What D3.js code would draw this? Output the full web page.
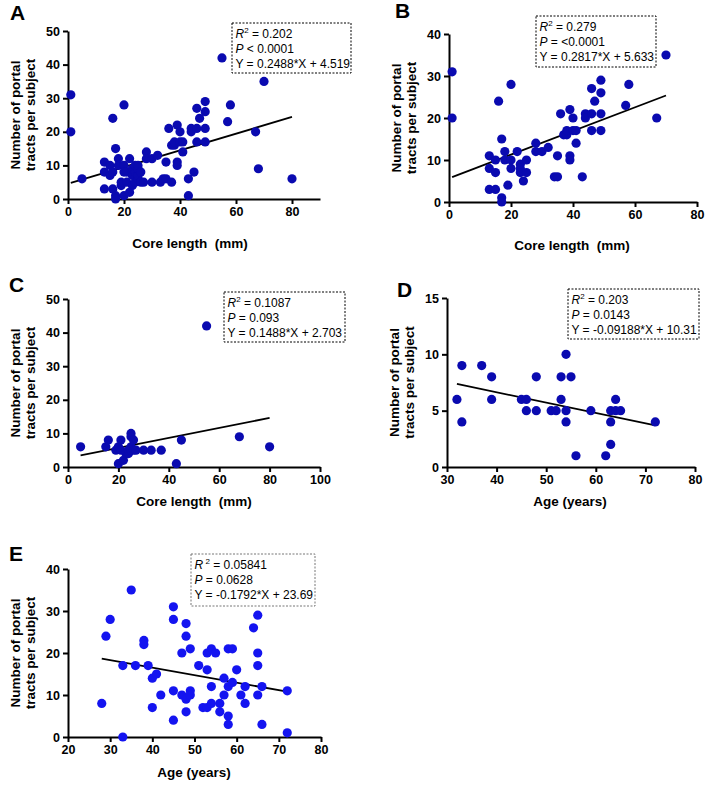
<!DOCTYPE html>
<html><head><meta charset="utf-8">
<script src="https://cdn.jsdelivr.net/npm/d3@7"></script>
<style>
body{margin:0;background:#fff;}
svg{font-family:"Liberation Sans",Arial,sans-serif;}
</style></head>
<body><svg id="c" width="709" height="785"></svg>
<script>
// Panel A: core length vs portal tracts (all)
const aCore = [1,1,5,13,13,13,15,15,16,16,16,17,17,17,18,18,19,19,20,20,20,20,21,21,22,22,23,23,23,23,24,24,24,25,25,25,25,26,26,27,28,28,30,30,32,33,34,35,35,36,37,37,38,38,39,39,39,40,40,41,41,43,43,44,44,45,46,46,46,47,49,49,49,49,55,57,58,67,68,70,80];
const aTracts = [31,20,6,11,8,3,10,7,24,3,8,15,1,0,12,10,4,5,28,10,8,1,5,8,12,2,9,8,7,4,5,8,10,6,7,9,10,8,5,5,14,12,12,5,13,5,6,6,11,21,16,5,16,17,22,11,10,20,17,17,14,6,1,21,20,8,27,21,17,24,29,26,21,17,42,23,28,20,9,35,6];
// Panel B
const bCore = [1,1,13,13,13,15,15,15,16,17,17,17,18,18,19,20,20,20,22,23,23,23,24,25,25,28,28,30,32,34,35,35,36,37,38,38,39,39,39,40,40,41,41,43,44,44,46,46,46,47,49,49,49,49,57,58,67,70];
const bTracts = [31,20,11,8,3,10,7,3,24,15,1,0,12,10,4,28,10,8,12,9,8,7,5,10,7,14,12,12,13,6,6,11,21,16,16,17,22,11,10,20,17,17,14,6,21,20,27,21,17,24,29,26,21,17,23,28,20,35];
// Panel C
const cCore = [5,15,16,19,20,20,21,21,22,23,24,24,25,25,25,25,26,26,27,30,33,37,43,45,55,68,80];
const cTracts = [6,6,8,5,6,1,8,5,2,4,4,5,10,9,6,5,8,5,5,5,5,5,1,8,42,9,6];
// Panel D
const dAge = [32,33,33,37,39,39,45,46,46,48,48,51,52,53,53,54,54,54,55,56,59,62,63,63,63,64,64,65,72];
const dTracts = [6,9,4,9,8,6,6,6,5,8,5,5,5,8,6,10,5,4,8,1,5,1,5,4,2,6,5,5,4];
// Panel E
const eAge = [28,29,30,33,33,35,36,38,38,39,40,40,41,42,45,45,45,45,47,47,48,48,48,48,49,49,49,51,52,53,53,53,54,54,54,55,56,56,57,57,58,58,58,58,59,59,60,61,62,62,64,65,65,65,65,66,66,72,72];
const eTracts = [8,24,28,17,0,35,17,23,22,17,14,7,15,10,31,28,11,4,20,10,27,24,9,6,21,11,10,17,7,20,16,7,21,12,8,20,8,6,14,10,21,12,5,3,21,13,16,10,12,8,26,29,20,17,10,12,3,11,1];

const statsA = ["0.202","< 0.0001","Y = 0.2488*X + 4.519"];
const statsB = ["0.279","= <0.0001","Y = 0.2817*X + 5.633"];
const statsC = ["0.1087","= 0.093","Y = 0.1488*X + 2.703"];
const statsD = ["0.203","= 0.0143","Y = -0.09188*X + 10.31"];
const statsE = ["0.05841","= 0.0628","Y = -0.1792*X + 23.69"];
const slopes = [0.2488,0.2817,0.1488,-0.09188,-0.1792];
const intercepts = [4.519,5.633,2.703,10.31,23.69];

const svg = d3.select("#c");

function panel(o){
  const g = svg.append("g");
  const x = d3.scaleLinear().domain(o.xd).range(o.xr);
  const y = d3.scaleLinear().domain(o.yd).range(o.yr);
  const xa = g.append("g").attr("transform",`translate(0,${o.yr[0]})`)
    .call(d3.axisBottom(x).tickValues(o.xt).tickSize(5).tickPadding(3).tickSizeOuter(0));
  const ya = g.append("g").attr("transform",`translate(${o.xr[0]},0)`)
    .call(d3.axisLeft(y).tickValues(o.yt).tickSize(5).tickPadding(3).tickSizeOuter(0));
  [xa,ya].forEach(a=>{
    a.select(".domain").attr("stroke","#000").attr("stroke-width",2);
    a.selectAll(".tick line").attr("stroke","#000").attr("stroke-width",2);
    a.selectAll(".tick text").attr("fill","#000").attr("font-size",12.5).attr("font-weight","bold")
      .attr("font-family","Liberation Sans, Arial, sans-serif");
  });
  // regression
  const xs = [d3.min(o.xs), d3.max(o.xs)];
  g.append("line").attr("x1",x(xs[0])).attr("y1",y(o.m*xs[0]+o.b))
    .attr("x2",x(xs[1])).attr("y2",y(o.m*xs[1]+o.b))
    .attr("stroke","#000").attr("stroke-width",1.8);
  // points
  g.selectAll("circle.p").data(o.xs.map((v,i)=>[v,o.ys[i]])).join("circle")
    .attr("cx",d=>x(d[0])).attr("cy",d=>y(d[1])).attr("r",4.6).attr("fill",o.col);
  // label
  g.append("text").attr("x",o.lab[1]).attr("y",o.lab[2]).attr("font-size",21).attr("font-weight","bold").text(o.lab[0]);
  // y title
  const cy = (o.yr[0]+o.yr[1])/2;
  const yt = g.append("text").attr("transform",`translate(${o.xr[0]-48},${cy}) rotate(-90)`)
    .attr("text-anchor","middle").attr("font-size",13.5).attr("font-weight","bold");
  yt.append("tspan").attr("x",0).attr("dy",0).text("Number of portal");
  yt.append("tspan").attr("x",0).attr("dy",14.5).text("tracts per subject");
  // x title
  g.append("text").attr("x",o.xtitle[1]).attr("y",o.xtitle[2]).attr("text-anchor","middle")
    .attr("font-size",13.5).attr("font-weight","bold").attr("xml:space","preserve").text(o.xtitle[0]);
  // stats box
  const bx = o.box;
  g.append("rect").attr("x",bx[0]).attr("y",bx[1]).attr("width",bx[2]).attr("height",bx[3])
    .attr("fill","none").attr("stroke",o.boxCol).attr("stroke-width",1).attr("stroke-dasharray","2,1.5");
  const tx = bx[0]+3.5, fs = 12;
  const t1 = g.append("text").attr("x",tx).attr("y",bx[1]+15).attr("font-size",fs);
  t1.append("tspan").attr("font-style","italic").text("R");
  t1.append("tspan").attr("font-size",8).attr("dy",-5).text(o.sup);
  t1.append("tspan").attr("dy",5).text(" = "+o.st[0]);
  const t2 = g.append("text").attr("x",tx).attr("y",bx[1]+30).attr("font-size",fs);
  t2.append("tspan").attr("font-style","italic").text("P");
  t2.append("tspan").text(" "+o.st[1]);
  g.append("text").attr("x",tx).attr("y",bx[1]+45).attr("font-size",fs).text(o.st[2]);
}

const dark = "#0a0ab0", bright = "#1414f0";
panel({xd:[0,90],xr:[68,320],yd:[0,50],yr:[199,31],xt:[0,20,40,60,80],yt:[0,10,20,30,40,50],
  xs:aCore,ys:aTracts,m:slopes[0],b:intercepts[0],col:dark,lab:["A",10,20],
  xtitle:["Core length  (mm)",190,248],box:[232,23,119,50],boxCol:"#000",st:statsA,sup:"2"});
panel({xd:[0,80],xr:[449,697],yd:[0,40],yr:[202,34],xt:[0,20,40,60,80],yt:[0,10,20,30,40],
  xs:bCore,ys:bTracts,m:slopes[1],b:intercepts[1],col:dark,lab:["B",395,18],
  xtitle:["Core length  (mm)",572,250],box:[536,16,120,51],boxCol:"#000",st:statsB,sup:"2"});
panel({xd:[0,100],xr:[68,320],yd:[0,50],yr:[467,299],xt:[0,20,40,60,80,100],yt:[0,10,20,30,40,50],
  xs:cCore,ys:cTracts,m:slopes[2],b:intercepts[2],col:dark,lab:["C",9,292],
  xtitle:["Core length  (mm)",194,506],box:[224,292,121,50],boxCol:"#000",st:statsC,sup:"2"});
panel({xd:[30,80],xr:[447,695],yd:[0,15],yr:[467,298],xt:[30,40,50,60,70,80],yt:[0,5,10,15],
  xs:dAge,ys:dTracts,m:slopes[3],b:intercepts[3],col:dark,lab:["D",397,297],
  xtitle:["Age (years)",570,506],box:[568,289,131,50],boxCol:"#000",st:statsD,sup:"2"});
panel({xd:[20,80],xr:[68,321],yd:[0,40],yr:[737,569],xt:[20,30,40,50,60,70,80],yt:[0,10,20,30,40],
  xs:eAge,ys:eTracts,m:slopes[4],b:intercepts[4],col:bright,lab:["E",9,561],
  xtitle:["Age (years)",194,777],box:[191,554,124,52],boxCol:"#777",st:statsE,sup:" 2"});
</script></body></html>
